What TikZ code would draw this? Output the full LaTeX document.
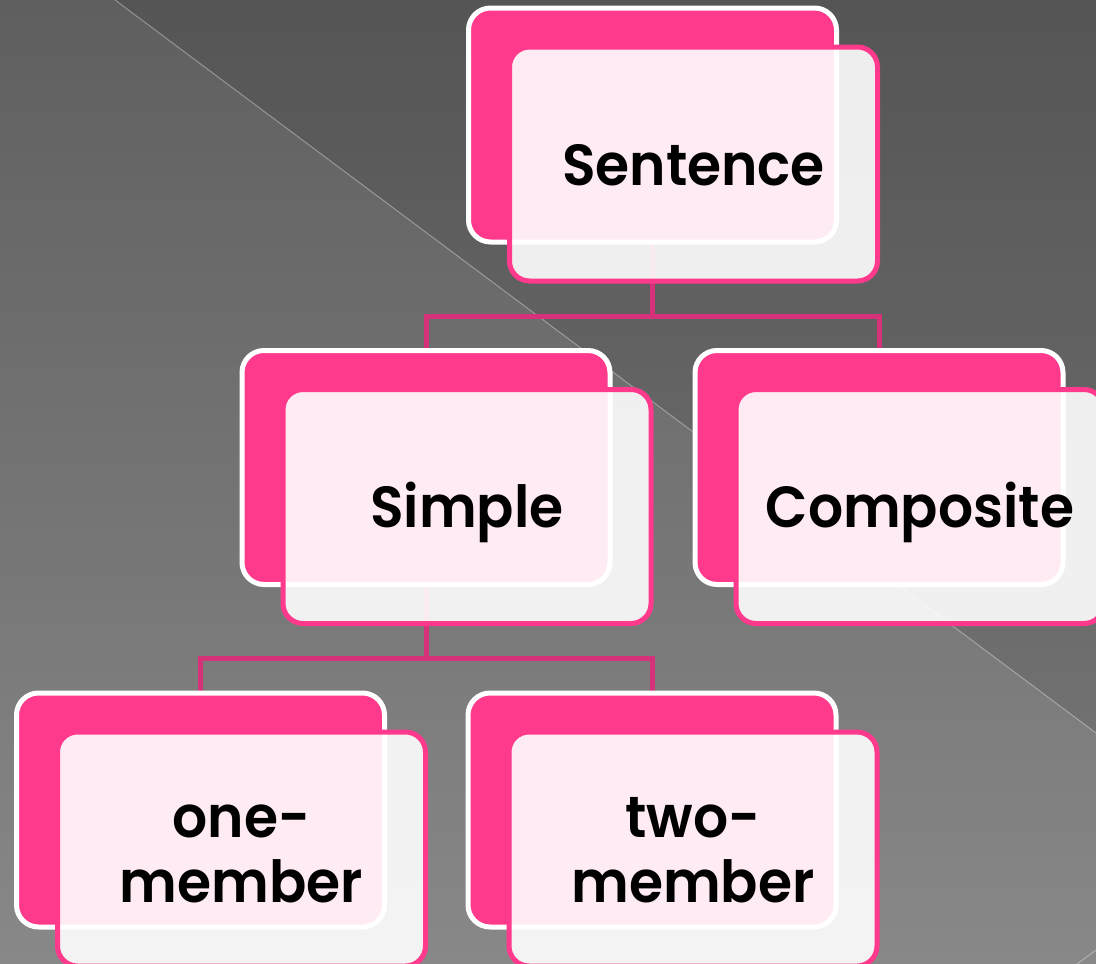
\documentclass[tikz,border=0pt]{standalone}
\usepackage{fontspec}
\setmainfont{Poppins}[FakeStretch=0.95, BoldFont={Poppins SemiBold}]
\definecolor{boxpink}{RGB}{255,57,139}
\definecolor{linkpink}{RGB}{214,50,122}
\definecolor{bgtop}{RGB}{95,95,95}
\definecolor{bgmid}{RGB}{106,106,106}
\definecolor{bgbot}{RGB}{136,136,136}
\begin{document}
\begin{tikzpicture}[x=1pt,y=-1pt,
  backbox/.style={draw=white, line width=5pt, fill=boxpink, rounded corners=22pt,
    minimum width=368pt, minimum height=234pt, inner sep=0pt, outer sep=0pt},
  frontbox/.style={draw=boxpink, line width=5pt, fill=white, fill opacity=0.9,
    text opacity=1, rounded corners=20pt, minimum width=368pt, minimum height=234pt,
    inner sep=0pt, outer sep=0pt, align=center, text=black,
    font=\bfseries\fontsize{58}{65}\selectfont, text height=42pt, text depth=0pt},
  twoline/.style={text height=106pt, text depth=0pt},
  conn/.style={draw=linkpink, line width=5pt}]
\useasboundingbox (0,0) rectangle (1096,964);
\clip (0,0) rectangle (1096,964);

% slide background with its diagonal facet
\fill[top color=bgtop, middle color=bgmid, bottom color=bgbot] (0,0) rectangle (1096,964);
\fill[black, opacity=0.1] (115,0) -- (1096,0) -- (1096,733) -- cycle;
\draw[white, opacity=0.35, line width=1pt] (115,0) -- (1096,733);
\draw[white, opacity=0.35, line width=1pt] (1077,964) -- (1096,950);

% card positions
\path (652.5,125) coordinate (pSent);
\path (426,467.5) coordinate (pSimp);
\path (879,467.5) coordinate (pComp);
\path (200.5,810) coordinate (pOne);
\path (652,810) coordinate (pTwo);

% connectors sit under the cards
\path (pSent) ++(0,117) coordinate (sentS);
\path (pSimp) ++(0,-117) coordinate (simpN);
\path (pComp) ++(0,-117) coordinate (compN);
\path (pSimp) ++(0,117) coordinate (simpS);
\path (pOne) ++(0,-117) coordinate (oneN);
\path (pTwo) ++(0,-117) coordinate (twoN);
\path (sentS) ++(0,74) coordinate (j1);
\path (simpS) ++(0,73.5) coordinate (j2);
\draw[conn] (sentS) -- (j1);
\draw[conn] (j1) -| (simpN);
\draw[conn] (j1) -| (compN);
\draw[conn] (simpS) -- (j2);
\draw[conn] (j2) -| (oneN);
\draw[conn] (j2) -| (twoN);

% cards: solid back card, translucent front card with the label
\node[backbox] (sentB) at (pSent) {};
\node[frontbox] (sent) at ([shift={(41,39)}]pSent) {Sentence};
\node[backbox] (simpB) at (pSimp) {};
\node[frontbox] (simp) at ([shift={(41,39)}]pSimp) {Simple};
\node[backbox] (compB) at (pComp) {};
\node[frontbox] (comp) at ([shift={(41,39)}]pComp) {Composite};
\node[backbox] (oneB) at (pOne) {};
\node[frontbox, twoline] (one) at ([shift={(41,39)}]pOne) {one-\\member};
\node[backbox] (twoB) at (pTwo) {};
\node[frontbox, twoline] (two) at ([shift={(41,39)}]pTwo) {two-\\member};
\end{tikzpicture}
\end{document}
